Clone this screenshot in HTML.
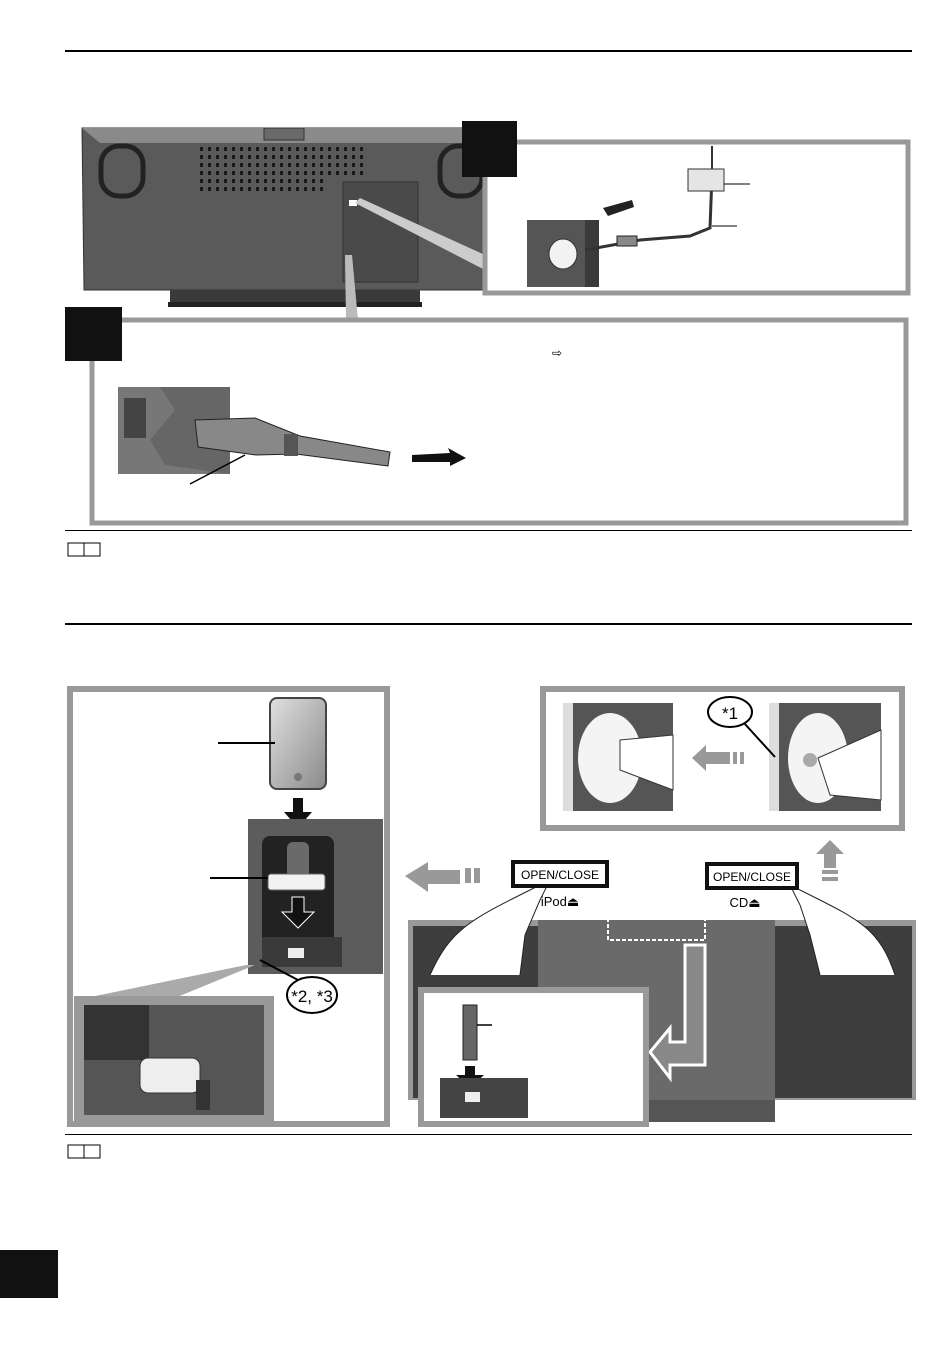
<!DOCTYPE html>
<html><head><meta charset="utf-8"><style>
html,body{margin:0;padding:0;background:#fff;}
svg{display:block;font-family:"Liberation Sans",sans-serif;}
</style></head><body>
<svg width="950" height="1348" viewBox="0 0 950 1348" xmlns="http://www.w3.org/2000/svg">
<defs>
<linearGradient id="ph" x1="0" y1="0" x2="1" y2="1"><stop offset="0" stop-color="#e0e0e0"/><stop offset="1" stop-color="#8a8a8a"/></linearGradient>
</defs>
<rect x="65" y="50" width="847" height="2" fill="#000"/>
<!-- back of unit -->
<path d="M82 128 L485 128 L485 290 L84 290 Z" fill="#5a5a5a" stroke="#333"/>
<path d="M82 128 L485 128 L470 143 L100 143 Z" fill="#8a8a8a"/>
<rect x="264" y="128" width="40" height="12" fill="#6a6a6a" stroke="#333"/>
<rect x="101" y="146" width="42" height="50" rx="18" fill="none" stroke="#222" stroke-width="5"/>
<rect x="440" y="146" width="42" height="50" rx="18" fill="none" stroke="#222" stroke-width="5"/>
<g stroke="#1a1a1a" stroke-width="4" stroke-dasharray="3 5">
<line x1="200" y1="149" x2="368" y2="149"/><line x1="200" y1="157" x2="368" y2="157"/>
<line x1="200" y1="165" x2="368" y2="165"/><line x1="200" y1="173" x2="368" y2="173"/>
<line x1="200" y1="181" x2="328" y2="181"/><line x1="200" y1="189" x2="328" y2="189"/>
</g>
<rect x="343" y="182" width="75" height="100" fill="#4a4a4a" stroke="#333"/>
<rect x="349" y="200" width="8" height="6" fill="#fff"/>
<rect x="170" y="290" width="250" height="12" fill="#3a3a3a"/>
<rect x="168" y="302" width="254" height="5" fill="#222"/>
<polygon points="355,203 360,198 485,255 485,270" fill="#ccc"/>
<polygon points="345,255 352,255 358,320 346,320" fill="#bbb"/>
<!-- box A -->
<rect x="485" y="142" width="423" height="151" fill="#fff" stroke="#999" stroke-width="5"/>
<rect x="462" y="121" width="55" height="56" fill="#111"/>
<rect x="527" y="220" width="72" height="67" fill="#555"/>
<polygon points="585,220 599,220 599,287 585,287" fill="#3a3a3a"/>
<ellipse cx="563" cy="254" rx="14" ry="15" fill="#f2f2f2" stroke="#333"/>
<path d="M585 250 L640 240 L690 236 L710 228 L712 175" fill="none" stroke="#333" stroke-width="3"/>
<rect x="617" y="236" width="20" height="10" fill="#888" stroke="#222"/>
<polygon points="603,208 632,200 634,207 608,216" fill="#222"/>
<rect x="688" y="169" width="36" height="22" fill="#e5e5e5" stroke="#333"/>
<line x1="712" y1="146" x2="712" y2="169" stroke="#333" stroke-width="2"/>
<line x1="724" y1="184" x2="750" y2="184" stroke="#000"/>
<line x1="712" y1="226" x2="737" y2="226" stroke="#000"/>
<!-- box B -->
<rect x="92" y="320" width="814" height="203" fill="#fff" stroke="#999" stroke-width="5"/>
<rect x="65" y="307" width="57" height="54" fill="#111"/>
<text x="552" y="357" font-size="12">⇨</text>
<rect x="118" y="387" width="112" height="87" fill="#777"/>
<rect x="124" y="398" width="22" height="40" fill="#444"/>
<path d="M160 387 L175 410 L150 440 L165 465 L230 474 L230 387Z" fill="#666"/>
<path d="M195 420 L255 418 L300 436 L390 452 L388 466 L296 454 L256 455 L198 447 Z" fill="#888" stroke="#222"/>
<rect x="284" y="434" width="14" height="22" fill="#555"/>
<polygon points="412,455 450,453 448,448 466,458 450,466 450,462 412,462" fill="#111"/>
<line x1="190" y1="484" x2="245" y2="455" stroke="#000" stroke-width="1.5"/>
<rect x="65" y="530" width="847" height="1" fill="#000"/>
<rect x="68" y="543" width="32" height="13" fill="none" stroke="#000"/>
<line x1="84" y1="543" x2="84" y2="556" stroke="#000"/>
<rect x="65" y="623" width="847" height="2" fill="#000"/>
<!-- bottom left box -->
<rect x="70" y="689" width="317" height="435" fill="#fff" stroke="#999" stroke-width="6"/>
<rect x="270" y="698" width="56" height="91" rx="7" fill="url(#ph)" stroke="#444" stroke-width="2"/>
<circle cx="298" cy="777" r="4" fill="#777"/>
<line x1="218" y1="743" x2="275" y2="743" stroke="#000" stroke-width="2"/>
<polygon points="293,798 303,798 303,812 312,812 298,828 284,812 293,812" fill="#111"/>
<rect x="248" y="819" width="135" height="155" fill="#5c5c5c"/>
<rect x="262" y="836" width="72" height="130" rx="8" fill="#222"/>
<rect x="287" y="842" width="22" height="40" rx="6" fill="#6a6a6a"/>
<rect x="268" y="874" width="57" height="16" rx="3" fill="#f2f2f2" stroke="#666"/>
<line x1="210" y1="878" x2="268" y2="878" stroke="#000" stroke-width="2"/>
<polygon points="292,897 304,897 304,912 314,912 298,928 282,912 292,912" fill="#111" stroke="#fff"/>
<rect x="262" y="937" width="80" height="30" fill="#3a3a3a"/>
<rect x="288" y="948" width="16" height="10" fill="#eee"/>
<polygon points="246,965 255,965 170,1000 76,1000" fill="#aaa"/>
<rect x="74" y="996" width="200" height="126" fill="#999"/>
<rect x="84" y="1005" width="180" height="110" fill="#555"/>
<rect x="84" y="1005" width="65" height="55" fill="#333"/>
<rect x="140" y="1058" width="60" height="35" rx="8" fill="#eee" stroke="#333"/>
<rect x="196" y="1080" width="14" height="30" fill="#333"/>
<ellipse cx="312" cy="995" rx="25" ry="18" fill="#fff" stroke="#000" stroke-width="2"/>
<text x="312" y="1002" font-size="17" text-anchor="middle">*2, *3</text>
<line x1="260" y1="960" x2="298" y2="980" stroke="#000" stroke-width="2"/>
<!-- right top box -->
<rect x="543" y="689" width="359" height="139" fill="#fff" stroke="#999" stroke-width="6"/>
<rect x="563" y="703" width="110" height="108" fill="#555"/>
<rect x="563" y="703" width="10" height="108" fill="#ddd"/>
<ellipse cx="610" cy="758" rx="32" ry="45" fill="#f4f4f4"/>
<path d="M620 740 L673 735 L673 790 L620 770Z" fill="#fff" stroke="#333"/>
<rect x="769" y="703" width="112" height="108" fill="#555"/>
<rect x="769" y="703" width="10" height="108" fill="#ddd"/>
<ellipse cx="818" cy="758" rx="30" ry="45" fill="#f4f4f4"/>
<path d="M818 758 L881 730 L881 800 L830 795Z" fill="#fff" stroke="#333"/>
<circle cx="810" cy="760" r="7" fill="#aaa"/>
<polygon points="692,758 706,745 706,752 730,752 730,764 706,764 706,771" fill="#999"/>
<rect x="733" y="752" width="4" height="12" fill="#999"/><rect x="740" y="752" width="4" height="12" fill="#999"/>
<ellipse cx="730" cy="712" rx="22" ry="15" fill="#fff" stroke="#000" stroke-width="2"/>
<text x="730" y="719" font-size="17" text-anchor="middle">*1</text>
<line x1="744" y1="723" x2="775" y2="757" stroke="#000" stroke-width="2"/>
<!-- arrows -->
<polygon points="405,876 428,862 428,870 460,870 460,884 428,884 428,892" fill="#999"/>
<rect x="465" y="868" width="6" height="15" fill="#999"/><rect x="474" y="868" width="6" height="15" fill="#999"/>
<polygon points="830,840 844,854 836,854 836,868 824,868 824,854 816,854" fill="#999"/>
<rect x="822" y="870" width="16" height="4" fill="#999"/><rect x="822" y="877" width="16" height="4" fill="#999"/>
<!-- main unit -->
<rect x="408" y="920" width="508" height="180" fill="#999"/>
<rect x="413" y="926" width="125" height="172" fill="#3e3e3e"/>
<rect x="538" y="920" width="237" height="180" fill="#6a6a6a"/>
<rect x="775" y="926" width="137" height="172" fill="#3e3e3e"/>
<rect x="540" y="1100" width="235" height="22" fill="#555"/>
<rect x="608" y="918" width="97" height="22" fill="none" stroke="#fff" stroke-width="2" stroke-dasharray="4 2"/>
<path d="M430 975 C450 930 470 920 530 890 L550 880 L540 900 L525 935 L520 975" fill="#fff" stroke="#222"/>
<path d="M895 975 C880 930 860 920 810 895 L790 885 L800 905 L810 935 L820 975" fill="#fff" stroke="#222"/>
<rect x="513" y="862" width="94" height="24" fill="#fff" stroke="#111" stroke-width="4"/>
<text x="560" y="879" font-size="12" text-anchor="middle">OPEN/CLOSE</text>
<text x="560" y="906" font-size="13" text-anchor="middle">iPod⏏</text>
<rect x="707" y="864" width="90" height="24" fill="#fff" stroke="#111" stroke-width="4"/>
<text x="752" y="881" font-size="12" text-anchor="middle">OPEN/CLOSE</text>
<text x="745" y="907" font-size="13" text-anchor="middle">CD⏏</text>
<path d="M685 945 L705 945 L705 1065 L670 1065 L670 1078 L650 1052 L670 1028 L670 1042 L685 1042 Z" fill="#888" stroke="#fff" stroke-width="3"/>
<!-- lower inset -->
<rect x="421" y="990" width="225" height="134" fill="#fff" stroke="#999" stroke-width="6"/>
<rect x="463" y="1005" width="14" height="55" fill="#666" stroke="#222"/>
<line x1="477" y1="1025" x2="492" y2="1025" stroke="#000" stroke-width="1.5"/>
<polygon points="465,1066 475,1066 475,1075 484,1075 470,1088 456,1075 465,1075" fill="#111"/>
<rect x="440" y="1078" width="88" height="40" fill="#444"/>
<rect x="465" y="1092" width="15" height="10" fill="#eee"/>
<rect x="65" y="1134" width="847" height="1" fill="#000"/>
<rect x="68" y="1145" width="32" height="13" fill="none" stroke="#000"/>
<line x1="84" y1="1145" x2="84" y2="1158" stroke="#000"/>
<rect x="0" y="1250" width="58" height="48" fill="#111"/>
</svg>
</body></html>
